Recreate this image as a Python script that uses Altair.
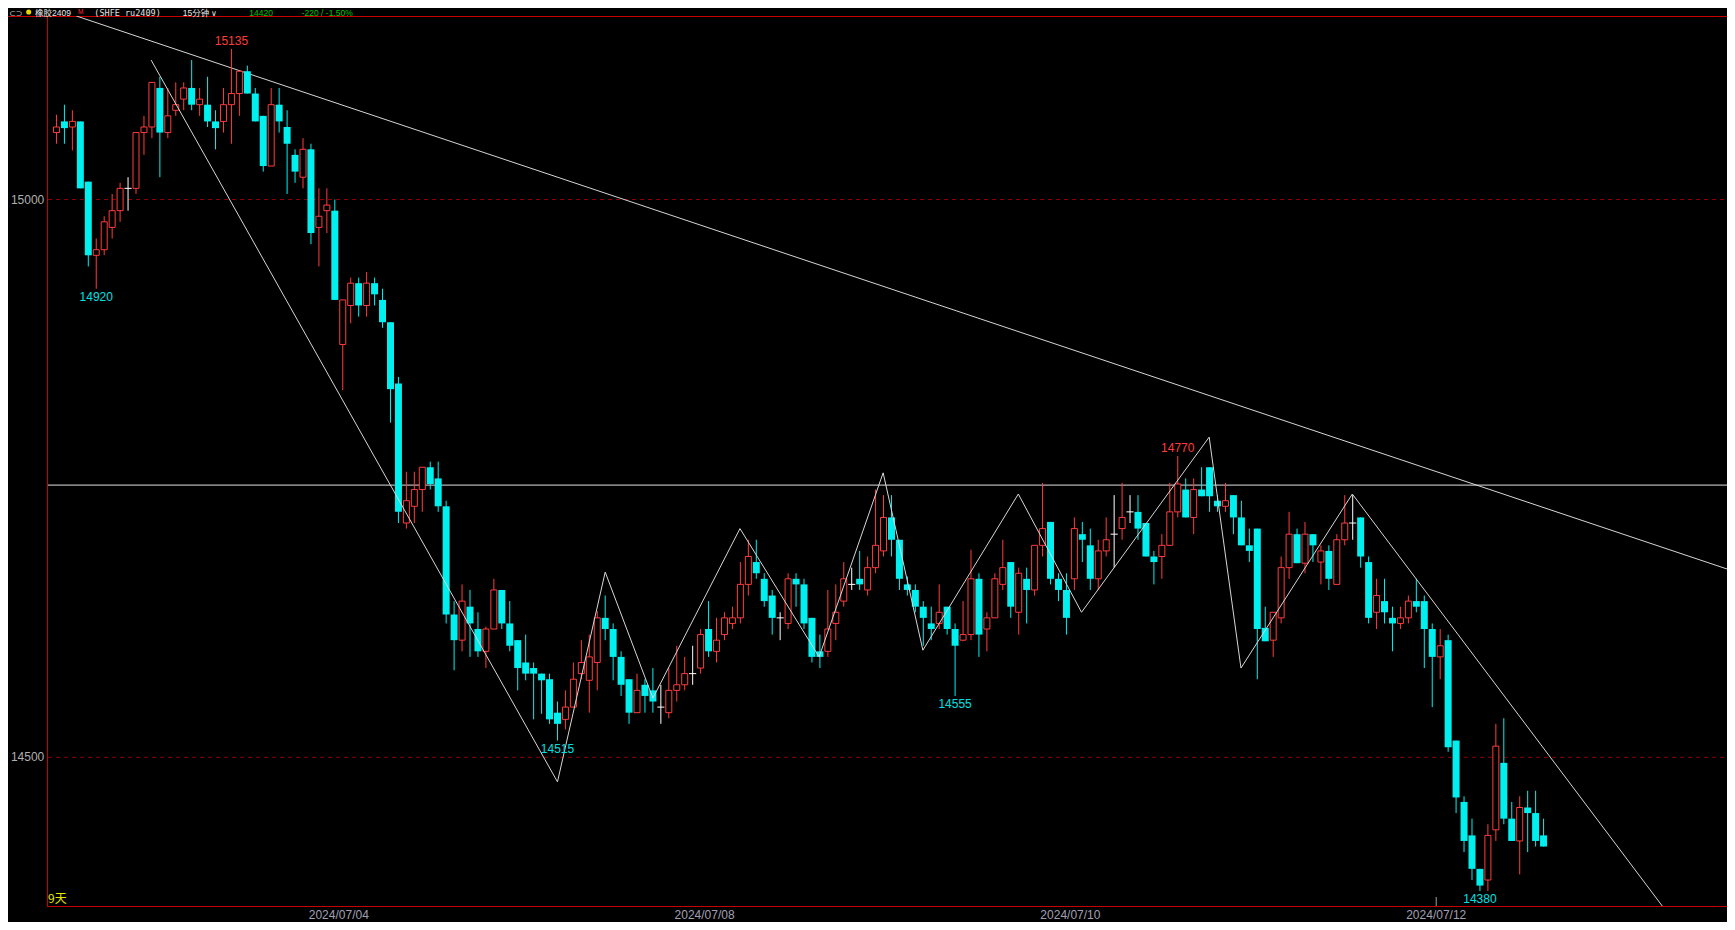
import altair as alt
import pandas as pd
import numpy as np

# ---------------- data ----------------
opens = [15060, 15070, 15065, 15070, 15016, 14950, 14955, 14975, 14990, 15010,
         15010, 15060, 15065, 15100, 15060, 15080, 15090, 15100, 15085, 15085,
         15070, 15070, 15085, 15095, 15115, 15095, 15075, 15030, 15085, 15065,
         15040, 15020, 15045, 14975, 14990, 14990, 14870, 14905, 14925, 14905,
         14925, 14910, 14890, 14835, 14710, 14725, 14740, 14760, 14750, 14725,
         14628, 14605, 14635, 14615, 14595, 14615, 14650, 14620, 14605, 14585,
         14580, 14575, 14570, 14540, 14534, 14545, 14575, 14569, 14585, 14625,
         14615, 14590, 14570, 14540, 14565, 14560, 14545, 14540, 14560, 14565,
         14575, 14580, 14615, 14595, 14610, 14620, 14625, 14655, 14675, 14660,
         14645, 14625, 14620, 14660, 14655, 14625, 14595, 14595, 14620, 14640,
         14655, 14660, 14650, 14670, 14685, 14715, 14695, 14655, 14650, 14635,
         14620, 14620, 14635, 14615, 14605, 14610, 14660, 14615, 14625, 14655,
         14675, 14630, 14660, 14650, 14690, 14711, 14660, 14650, 14660, 14700,
         14690, 14660, 14685, 14700, 14705, 14720, 14720, 14710, 14680, 14680,
         14690, 14720, 14740, 14715, 14740, 14760, 14730, 14725, 14735, 14715,
         14690, 14705, 14616, 14605, 14625, 14670, 14700, 14674, 14700, 14675,
         14685, 14655, 14695, 14710, 14715, 14675, 14630, 14640, 14625, 14620,
         14625, 14640, 14640, 14615, 14590, 14605, 14515, 14460, 14430, 14400,
         14390, 14435, 14495, 14445, 14425, 14455, 14450, 14430]
highs = [15076, 15085, 15080, 15070, 15016, 14965, 14985, 15005, 15015, 15020,
         15060, 15075, 15105, 15110, 15100, 15105, 15105, 15125, 15100, 15110,
         15080, 15100, 15135, 15115, 15120, 15100, 15075, 15100, 15100, 15080,
         15045, 15055, 15050, 15010, 15010, 15000, 14910, 14930, 14930, 14935,
         14930, 14920, 14890, 14841, 14756, 14756, 14760, 14765, 14765, 14730,
         14640, 14655, 14650, 14630, 14617, 14660, 14650, 14640, 14605, 14610,
         14585, 14575, 14575, 14550, 14560, 14585, 14605, 14610, 14631, 14645,
         14620, 14595, 14570, 14575, 14570, 14580, 14565, 14580, 14600, 14590,
         14600, 14615, 14640, 14625, 14630, 14635, 14675, 14695, 14695, 14665,
         14650, 14630, 14665, 14665, 14660, 14625, 14610, 14650, 14655, 14675,
         14670, 14685, 14680, 14740, 14735, 14735, 14695, 14662, 14655, 14640,
         14635, 14655, 14635, 14620, 14640, 14686, 14665, 14630, 14665, 14695,
         14675, 14670, 14670, 14690, 14746, 14711, 14665, 14665, 14715, 14711,
         14705, 14695, 14715, 14735, 14746, 14735, 14735, 14710, 14685, 14700,
         14746, 14770, 14750, 14750, 14760, 14760, 14735, 14746, 14735, 14730,
         14705, 14705, 14635, 14630, 14680, 14720, 14705, 14711, 14700, 14690,
         14690, 14700, 14735, 14735, 14715, 14680, 14660, 14660, 14635, 14635,
         14645, 14660, 14645, 14620, 14615, 14610, 14515, 14465, 14445, 14400,
         14440, 14530, 14535, 14460, 14465, 14470, 14470, 14445]
lows = [15050, 15050, 15044, 15010, 14940, 14920, 14950, 14965, 14980, 14990,
        15005, 15040, 15055, 15020, 15055, 15075, 15080, 15080, 15075, 15065,
        15045, 15060, 15050, 15075, 15095, 15070, 15025, 15030, 15060, 15005,
        15015, 15010, 14960, 14940, 14970, 14910, 14829, 14889, 14895, 14895,
        14905, 14885, 14800, 14710, 14705, 14710, 14720, 14740, 14720, 14620,
        14578, 14595, 14590, 14590, 14580, 14615, 14615, 14595, 14560, 14569,
        14534, 14539, 14530, 14515, 14525, 14545, 14570, 14540, 14560, 14605,
        14569, 14555, 14530, 14540, 14540, 14540, 14530, 14535, 14550, 14560,
        14565, 14575, 14590, 14585, 14605, 14615, 14620, 14645, 14660, 14635,
        14610, 14605, 14615, 14635, 14615, 14585, 14580, 14590, 14605, 14635,
        14650, 14650, 14645, 14665, 14680, 14680, 14650, 14645, 14630, 14600,
        14605, 14615, 14610, 14555, 14604, 14605, 14590, 14595, 14625, 14650,
        14625, 14610, 14620, 14645, 14680, 14655, 14640, 14610, 14650, 14675,
        14650, 14650, 14680, 14670, 14695, 14710, 14695, 14680, 14655, 14660,
        14690, 14715, 14715, 14700, 14734, 14720, 14720, 14720, 14700, 14690,
        14675, 14570, 14604, 14590, 14620, 14660, 14674, 14665, 14675, 14655,
        14650, 14655, 14690, 14695, 14670, 14620, 14615, 14620, 14595, 14615,
        14620, 14630, 14580, 14545, 14570, 14505, 14450, 14415, 14390, 14380,
        14380, 14425, 14440, 14425, 14395, 14415, 14420, 14420]
closes = [15065, 15064, 15070, 15010, 14950, 14955, 14980, 14990, 15010, 15010,
          15060, 15065, 15105, 15060, 15075, 15085, 15100, 15085, 15090, 15070,
          15064, 15085, 15095, 15115, 15095, 15070, 15030, 15085, 15070, 15050,
          15025, 15045, 14970, 14985, 14995, 14910, 14910, 14925, 14905, 14925,
          14915, 14890, 14830, 14720, 14730, 14740, 14760, 14745, 14725, 14628,
          14605, 14640, 14620, 14595, 14615, 14650, 14620, 14600, 14580, 14575,
          14575, 14569, 14534, 14530, 14545, 14570, 14585, 14590, 14625, 14615,
          14590, 14565, 14540, 14560, 14555, 14550, 14545, 14560, 14565, 14575,
          14575, 14610, 14595, 14605, 14625, 14625, 14655, 14680, 14665, 14640,
          14625, 14625, 14660, 14655, 14620, 14590, 14590, 14615, 14630, 14660,
          14655, 14655, 14670, 14690, 14715, 14695, 14660, 14650, 14635, 14625,
          14615, 14630, 14615, 14600, 14610, 14660, 14610, 14625, 14660, 14670,
          14635, 14665, 14650, 14690, 14705, 14660, 14650, 14625, 14705, 14695,
          14660, 14685, 14695, 14700, 14715, 14720, 14705, 14680, 14675, 14690,
          14720, 14745, 14715, 14740, 14734, 14734, 14725, 14730, 14715, 14690,
          14685, 14615, 14604, 14630, 14670, 14700, 14674, 14700, 14690, 14685,
          14660, 14695, 14710, 14710, 14680, 14625, 14645, 14630, 14620, 14625,
          14640, 14635, 14615, 14590, 14600, 14509, 14464, 14425, 14400, 14385,
          14430, 14510, 14445, 14425, 14455, 14450, 14425, 14420]

# day boundaries (bar index) and their labels
day_ticks = [35.5, 81.5, 127.5, 173.5]
day_labels = ["2024/07/04", "2024/07/08", "2024/07/10", "2024/07/12"]
marker_idx = [173.5]

# y axis labels / dashed grid
ytick_prices = [14500, 15000]
ytick_labels = ["14500", "15000"]

# zigzag indicator vertices (bar index, price)
zz_x = [11.9, 63.0, 69.0, 75.0, 85.95, 95.9, 103.95, 108.95, 120.95, 128.9, 144.95, 148.95, 162.95, 202.0]
zz_y = [15125, 14478, 14666, 14553, 14705, 14590, 14755, 14596, 14736, 14630, 14787, 14580, 14736, 14366]

# long down trend line
trend_x = [2.5, 210.4]
trend_y = [15164.5, 14668]

# horizontal line
hline_price = [14744]

# extreme annotations
ann_idx = [22, 5, 63, 113, 141, 179]
ann_price = [15135, 14920, 14515, 14555, 14770, 14380]
ann_text = ["15135", "14920", "14515", "14555", "14770", "14380"]
ann_kind = ["high", "low", "low", "low", "high", "low"]

title_name = "橡胶2409"
title_flag = "M"
title_code = "(SHFE ru2409)"
title_period = "15分钟"
title_arrow = "∨"
last_price = "14420"
change_text = "-220 / -1.50%"
days_text = "9天"
link_icon = "⊂⊃"

# ---------------- styling ----------------
W, H = 1679, 890
CYAN = "#00f0f0"
RED = "#ff3c3c"
BORDER = "#c80000"
GRID = "#8c0000"
LINE = "#d6d6d6"
GREEN = "#00c800"
HFONT = "Liberation Sans, Noto Sans CJK SC"

xs = alt.Scale(domain=[-0.4375, 209.4375], nice=False, zero=False)
ys = alt.Scale(domain=[14366.7, 15164.5], nice=False, zero=False)

n = len(opens)
df = pd.DataFrame({"i": np.arange(n), "o": opens, "h": highs, "l": lows, "c": closes})
df["dir"] = np.where(df.c > df.o, "up", np.where(df.c < df.o, "down", "flat"))
df["lo"] = np.minimum(df.o, df.c)
df["hi"] = np.maximum(df.o, df.c)

dummy = pd.DataFrame({"k": [0]})


def X(field):
    return alt.X(field, type="quantitative", scale=xs, axis=None)


def Y(field):
    return alt.Y(field, type="quantitative", scale=ys, axis=None)


def px_rule(x1, x2, y1, y2, color, **kw):
    return alt.Chart(dummy).mark_rule(color=color, strokeWidth=1, **kw).encode(
        x=alt.value(x1), x2=alt.value(x2), y=alt.value(y1), y2=alt.value(y2))


def px_text(txt, x, y, color, size, font, **kw):
    return alt.Chart(dummy).mark_text(text=txt, color=color, fontSize=size, font=font,
                                      align="left", baseline="alphabetic", **kw).encode(
        x=alt.value(x), y=alt.value(y))


grid_df = pd.DataFrame({"p": ytick_prices, "lab": ytick_labels})
grid = alt.Chart(grid_df).mark_rule(color=GRID, strokeWidth=1, strokeDash=[4, 4]).encode(
    y=Y("p"), x=alt.value(0), x2=alt.value(W))
ylabels = alt.Chart(grid_df).mark_text(align="right", baseline="middle", color="#b0b0b0",
                                       fontSize=12, font="Liberation Sans").encode(
    y=Y("p"), x=alt.value(-3.7), text="lab:N")

top_border = px_rule(-40, W, 0.5, 0.5, BORDER)
left_border = px_rule(-0.5, -0.5, 0, 891, BORDER)
bottom_border = px_rule(-0.5, W, 890.5, 890.5, BORDER)

trend = alt.Chart(pd.DataFrame({"x": trend_x, "y": trend_y})).mark_line(
    color=LINE, strokeWidth=1, clip=True).encode(x=X("x"), y=Y("y"))
hline = alt.Chart(pd.DataFrame({"p": hline_price})).mark_rule(color="#e0e0e0", strokeWidth=1).encode(
    y=Y("p"), x=alt.value(0), x2=alt.value(W))

color_scale = alt.Scale(domain=["up", "down", "flat"], range=[RED, CYAN, "#ffffff"])
wicks = alt.Chart(df).mark_rule(strokeWidth=1).encode(
    x=X("i"), y=Y("l"), y2="h:Q", color=alt.Color("dir:N", scale=color_scale, legend=None))
down_bodies = alt.Chart(df).transform_filter("datum.dir == 'down'").mark_bar(
    size=7, color=CYAN).encode(x=X("i"), y=Y("lo"), y2="hi:Q")
up_bodies = alt.Chart(df).transform_filter("datum.dir == 'up'").mark_bar(
    size=6, fill="#000000", stroke=RED, strokeWidth=1).encode(x=X("i"), y=Y("lo"), y2="hi:Q")
flat_bodies = alt.Chart(df).transform_filter("datum.dir == 'flat'").transform_calculate(
    xa="datum.i - 0.45", xb="datum.i + 0.45").mark_rule(color="#ffffff", strokeWidth=1).encode(
    x=X("xa"), x2="xb:Q", y=Y("o"))

zigzag = alt.Chart(pd.DataFrame({"x": zz_x, "y": zz_y})).mark_line(
    color=LINE, strokeWidth=1, clip=True).encode(x=X("x"), y=Y("y"), order="x:Q")

ann_df = pd.DataFrame({"i": ann_idx, "p": ann_price, "t": ann_text, "k": ann_kind})
ann_hi = alt.Chart(ann_df).transform_filter("datum.k == 'high'").mark_text(
    color=RED, fontSize=12, font="Liberation Sans", baseline="middle", dy=-8).encode(
    x=X("i"), y=Y("p"), text="t:N")
ann_lo = alt.Chart(ann_df).transform_filter("datum.k == 'low'").mark_text(
    color="#00e0e0", fontSize=12, font="Liberation Sans", baseline="middle", dy=8).encode(
    x=X("i"), y=Y("p"), text="t:N")

xlab_df = pd.DataFrame({"i": day_ticks, "t": day_labels})
xlabels = alt.Chart(xlab_df).mark_text(color="#a0a0b4", fontSize=12, font="Liberation Sans",
                                       baseline="alphabetic").encode(
    x=X("i"), y=alt.value(H + 13.2), text="t:N")
marker = alt.Chart(pd.DataFrame({"i": marker_idx})).mark_rule(color="#a0a0a0", strokeWidth=1).encode(
    x=X("i"), y=alt.value(H - 9), y2=alt.value(H))

days = px_text(days_text, 0, H - 3, "#e6e600", 12, "Noto Sans CJK SC")

hy = -0.4
header = [
    px_text(link_icon, -39, hy, "#c8c8c8", 8, "DejaVu Sans"),
    alt.Chart(dummy).mark_point(filled=True, color="#e8d800", size=26, opacity=1).encode(
        x=alt.value(-19.3), y=alt.value(-4)),
    px_text(title_name, -13, hy, "#e8e8e8", 8.5, HFONT),
    px_text(title_flag, 30, hy - 2, "#ff3030", 6.5, "Liberation Sans"),
    px_text(title_code, 46.3, hy, "#e0e0e0", 8.5, "DejaVu Sans Mono"),
    px_text(title_period, 134.7, hy, "#e8e8e8", 8.5, HFONT),
    px_text(title_arrow, 163, hy, "#e8e8e8", 8, "DejaVu Sans"),
    px_text(last_price, 201.3, hy, GREEN, 8.5, "Liberation Sans"),
    px_text(change_text, 253.7, hy, GREEN, 8.5, "Liberation Sans"),
]

chart = alt.layer(
    grid, ylabels, top_border, left_border, bottom_border, trend, hline,
    wicks, down_bodies, up_bodies, flat_bodies, zigzag, ann_hi, ann_lo,
    xlabels, marker, days, *header
).properties(
    width=W, height=H,
    padding={"left": 40, "top": 8, "right": 0, "bottom": 16},
    autosize=alt.AutoSizeParams(type="none"),
    background="#000000",
).configure_view(strokeWidth=0)

chart.save("out.html", embed_options={"renderer": "svg", "actions": False})
